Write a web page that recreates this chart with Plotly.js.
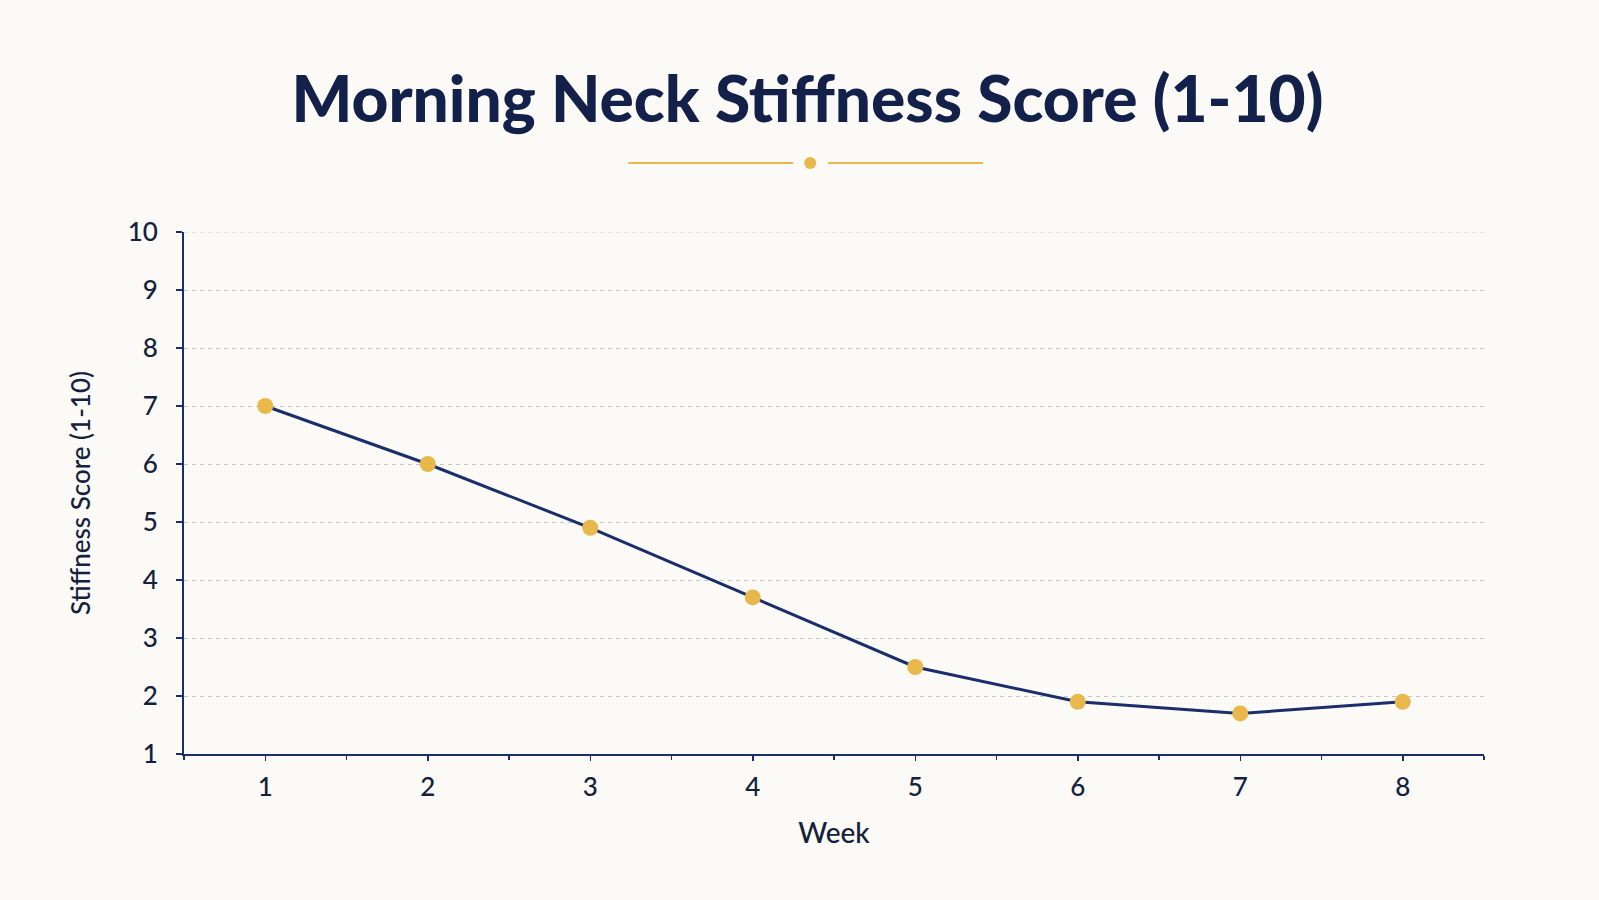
<!DOCTYPE html>
<html>
<head>
<meta charset="utf-8">
<script src="https://cdn.plot.ly/plotly-3.0.1.min.js"></script>
<style>
  html, body { margin: 0; padding: 0; background: #FBFAF6; }
  #chart { width: 1599px; height: 900px; }
</style>
</head>
<body>
<div id="chart"></div>
<script>
// Weekly morning neck stiffness scores
const weeks = [1, 2, 3, 4, 5, 6, 7, 8];
const stiffness = [7.0, 6.0, 4.9, 3.7, 2.5, 1.9, 1.7, 1.9];
const weekTicks = [1, 2, 3, 4, 5, 6, 7, 8];
const scoreTicks = [1, 2, 3, 4, 5, 6, 7, 8, 9, 10];

const navy = '#1B2E6B';
const ink = '#14213D';
const gold = '#E8B84A';
const gridColor = '#C6C6C3';

const trace = {
  x: weeks,
  y: stiffness,
  type: 'scatter',
  mode: 'lines+markers',
  line: { color: navy, width: 3 },
  marker: { color: gold, size: 16, line: { width: 0 } },
  hoverinfo: 'x+y'
};

const topScore = scoreTicks[scoreTicks.length - 1];

const layout = {
  width: 1599,
  height: 900,
  paper_bgcolor: '#FBFAF6',
  plot_bgcolor: '#FBFAF6',
  font: { family: 'Lato, "Open Sans", sans-serif', color: ink },
  margin: { l: 184, r: 115, t: 232, b: 146 },
  showlegend: false,
  title: {
    text: 'Morning Neck Stiffness Score (1-10)',
    font: { family: 'Lato, sans-serif', size: 64, weight: 900, color: '#12204A' },
    x: 0.505,
    xanchor: 'center',
    xref: 'container',
    y: 1 - 100 / 900,
    yanchor: 'middle',
    yref: 'container'
  },
  xaxis: {
    range: [0.5, 8.5],
    tickvals: weekTicks,
    ticktext: weekTicks.map(String),
    ticks: 'outside',
    ticklen: 5,
    tickwidth: 1.5,
    tickcolor: navy,
    minor: { dtick: 0.5, tick0: 0.5, ticks: 'outside', ticklen: 4, tickwidth: 1.5, tickcolor: navy, showgrid: false },
    showgrid: false,
    zeroline: false,
    showline: true,
    linecolor: navy,
    linewidth: 2,
    tickfont: { size: 26, weight: 500, color: ink },
    ticklabelstandoff: 4,
    title: { text: 'Week', font: { size: 28, weight: 500, color: ink }, standoff: 22 }
  },
  yaxis: {
    range: [1, 10],
    tickvals: scoreTicks,
    ticktext: scoreTicks.map(String),
    ticks: 'outside',
    ticklen: 6,
    tickwidth: 1.5,
    tickcolor: navy,
    showgrid: true,
    gridcolor: gridColor,
    gridwidth: 1,
    griddash: '4px,4px',
    zeroline: false,
    showline: true,
    linecolor: navy,
    linewidth: 2,
    tickfont: { size: 26, weight: 500, color: ink },
    ticklabelstandoff: 13,
    title: { text: 'Stiffness Score (1-10)', font: { size: 26, weight: 500, color: ink }, standoff: 30 }
  },
  shapes: [
    // top gridline, which the axis itself leaves out at the range edge
    { type: 'line', xref: 'paper', yref: 'y', x0: 0, x1: 1, y0: topScore, y1: topScore,
      line: { color: gridColor, width: 1, dash: '4px,4px' }, layer: 'below' },
    // ornament under the title
    { type: 'line', xref: 'paper', yref: 'paper', x0: 0.3417, x1: 0.4686, y0: 1.1322, y1: 1.1322,
      line: { color: gold, width: 2 } },
    { type: 'line', xref: 'paper', yref: 'paper', x0: 0.4955, x1: 0.6147, y0: 1.1322, y1: 1.1322,
      line: { color: gold, width: 2 } },
    { type: 'circle', xref: 'paper', yref: 'paper', xsizemode: 'pixel', ysizemode: 'pixel',
      xanchor: 0.4817, yanchor: 1.1322, x0: -6, x1: 6, y0: -6, y1: 6,
      fillcolor: gold, line: { width: 0 } }
  ]
};

Plotly.newPlot('chart', [trace], layout, { displayModeBar: false, staticPlot: true });
</script>
</body>
</html>
